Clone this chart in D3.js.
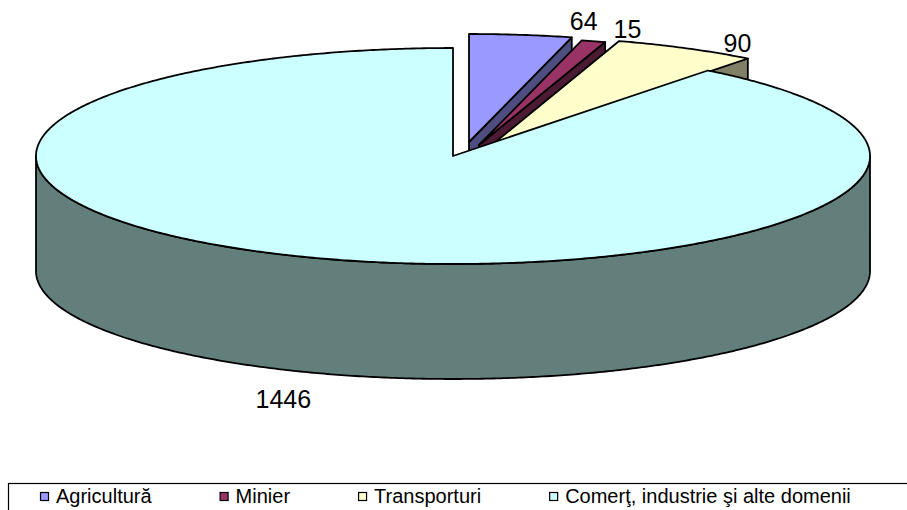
<!DOCTYPE html>
<html>
<head>
<meta charset="utf-8">
<script src="https://cdn.jsdelivr.net/npm/d3@7"></script>
<style>
  body { margin: 0; background: #fff; }
  svg { display: block; font-family: Arial, "Liberation Sans", sans-serif; }
</style>
</head>
<body>
<script>
const width = 907;
const height = 510;

// data
const categories = ["Agricultură", "Minier", "Transporturi", "Comerţ, industrie şi alte domenii"];
const values = [64, 15, 90, 1446];

// styles
const topColors = ["#9999FF", "#993366", "#FFFFCC", "#CCFFFF"];
const sideColors = ["#4D4D80", "#4D1A33", "#808066", "#637F7C"];
const explode = [[16, -14], [26, -11], [40, -12], [0, 0]];
const labelShift = [[63, -5], [34, -3], [51, 4], [-35, 35]];

const cx = 453, cy = 156, rx = 417, ry = 108, depth = 115;

const svg = d3.select("body").append("svg")
    .attr("width", width)
    .attr("height", height);

const pie = d3.pie().sort(null).value(d => d);
const slices = pie(values).map((d, i) => ({
    ...d, i: i, ox: explode[i][0], oy: explode[i][1]
}));

function pt(a, ox, oy, dz) {
    return [cx + ox + rx * Math.sin(a), cy + oy - ry * Math.cos(a) + (dz || 0)];
}

function arcPts(a0, a1, ox, oy, dz) {
    const n = Math.max(2, Math.ceil(Math.abs(a1 - a0) / (Math.PI / 360)));
    return d3.range(n + 1).map(k => pt(a0 + (a1 - a0) * k / n, ox, oy, dz));
}

const line = d3.line();
const closed = pts => line(pts) + "Z";

function topFace(s) {
    const apex = [cx + s.ox, cy + s.oy];
    return closed([apex].concat(arcPts(s.startAngle, s.endAngle, s.ox, s.oy)));
}

function endFace(s) {
    const apex = [cx + s.ox, cy + s.oy];
    const a = pt(s.endAngle, s.ox, s.oy);
    const b = pt(s.endAngle, s.ox, s.oy, depth);
    return closed([apex, a, b, [apex[0], apex[1] + depth]]);
}

function outerSide(s) {
    const a0 = Math.max(s.startAngle, Math.PI / 2);
    const a1 = Math.min(s.endAngle, Math.PI * 1.5);
    if (a1 <= a0) return null;
    const topPts = arcPts(a0, a1, s.ox, s.oy);
    const botPts = arcPts(a1, a0, s.ox, s.oy, depth);
    return closed(topPts.concat(botPts));
}

const g = svg.append("g")
    .attr("stroke", "#000")
    .attr("stroke-width", 1.8)
    .attr("stroke-linejoin", "round");

// exploded slices first (they sit behind the big one)
slices.filter(s => s.i < 3).forEach(s => {
    g.append("path").attr("d", endFace(s)).attr("fill", sideColors[s.i]);
    g.append("path").attr("d", topFace(s)).attr("fill", topColors[s.i]);
});

// big slice
slices.filter(s => s.i === 3).forEach(s => {
    const side = outerSide(s);
    if (side) g.append("path").attr("d", side).attr("fill", sideColors[s.i]);
    g.append("path").attr("d", topFace(s)).attr("fill", topColors[s.i]);
});

// value labels
svg.append("g")
    .selectAll("text")
    .data(slices)
    .enter().append("text")
    .attr("x", d => {
        const mid = (d.startAngle + d.endAngle) / 2;
        return pt(mid, d.ox, d.oy)[0] + labelShift[d.i][0];
    })
    .attr("y", d => {
        const mid = (d.startAngle + d.endAngle) / 2;
        const dz = Math.cos(mid) < 0 ? depth : 0;
        return pt(mid, d.ox, d.oy, dz)[1] + labelShift[d.i][1];
    })
    .attr("text-anchor", "middle")
    .attr("font-size", 25)
    .attr("fill", "#000")
    .text(d => d.data);

// legend
const legend = svg.append("g");
legend.append("rect")
    .attr("x", 8.5).attr("y", 483.5)
    .attr("width", 920).attr("height", 60)
    .attr("fill", "#fff").attr("stroke", "#000").attr("stroke-width", 1.2);

let lx = 40;
categories.forEach((c, i) => {
    legend.append("rect")
        .attr("x", lx + 0.5).attr("y", 492.5)
        .attr("width", 8).attr("height", 8)
        .attr("fill", topColors[i]).attr("stroke", "#000").attr("stroke-width", 1.2);
    const t = legend.append("text")
        .attr("x", lx + 16).attr("y", 503)
        .attr("font-size", 20)
        .attr("fill", "#000")
        .text(c);
    lx += 16 + t.node().getComputedTextLength() + 68;
});
</script>
</body>
</html>
